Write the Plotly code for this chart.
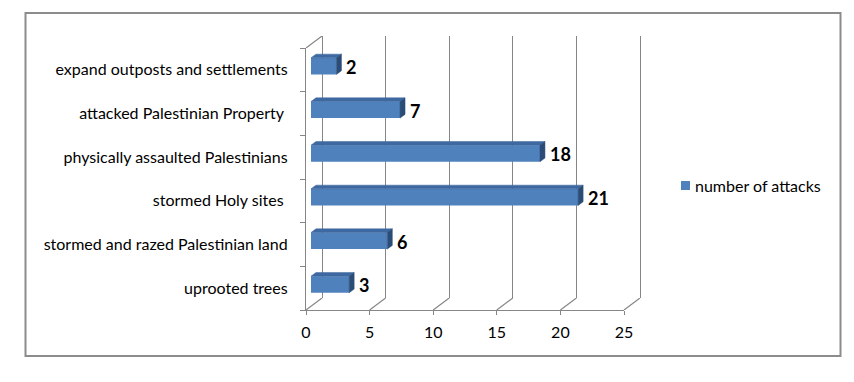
import plotly.graph_objects as go

# ---------------- data ----------------
categories = [
    "expand outposts and settlements",
    "attacked Palestinian Property\u00a0",
    "physically assaulted Palestinians",
    "stormed Holy sites\u00a0",
    "stormed and razed Palestinian land",
    "uprooted trees",
]
attacks = [2, 7, 18, 21, 6, 3]
x_ticks = [0, 5, 10, 15, 20, 25]
series_name = "number of attacks"

# ---------------- geometry / style ----------------
W, H = 854, 382
OFF = 8  # default page margin of the html body
def px(x):
    return (x - OFF) / W
def py(y):
    return 1 - (y - OFF) / H

FRONT_L, FRONT_R, FRONT_T, FRONT_B = 306, 624, 48, 310
DEPTH_X, DEPTH_Y = 16, 12          # back wall offset (px)
BAR_OFF_X, BAR_OFF_Y = 5, 3.7      # bar front-face offset (px)
BAR_DX, BAR_DY = 5, 3.7            # bar depth (px)
XMAX = 25
n = len(categories)
unit_x = (FRONT_R - FRONT_L) / XMAX
unit_y = (FRONT_B - FRONT_T) / n
D = DEPTH_X / unit_x
PAD = 3                             # px padding so edge gridlines are kept
padu = PAD / unit_x
bar_w = 0.38
dx = BAR_DX / unit_x
dy = BAR_DY / unit_y

GRID = "#868686"
FRONT = "#4F81BD"
TOP = "#3D68A0"
SIDE = "#2B4C76"
FONT = "Lato"
FS = 16

fig = go.Figure()

# anchor traces so that the front and back axes render
fig.add_trace(go.Scatter(x=[None], y=[None], xaxis="x", yaxis="y", showlegend=False, hoverinfo="skip"))
fig.add_trace(go.Scatter(x=[None], y=[None], xaxis="x2", yaxis="y2", showlegend=False, hoverinfo="skip"))

# floor / wall diagonals
diag_x, diag_y = [], []
for v in x_ticks:
    diag_x += [v, v + D, None]
    diag_y += [0, 1, None]
fig.add_trace(go.Scatter(x=diag_x, y=diag_y, xaxis="x4", yaxis="y4", mode="lines",
                         line=dict(color=GRID, width=1.2), showlegend=False, hoverinfo="skip"))
fig.add_trace(go.Scatter(x=[0, D], y=[0, 1], xaxis="x4", yaxis="y5", mode="lines",
                         line=dict(color=GRID, width=1.2), showlegend=False, hoverinfo="skip"))

# bars (front faces)
idx = list(range(n))
fig.add_trace(go.Bar(x=attacks, y=idx, orientation="h", width=bar_w, xaxis="x3", yaxis="y3",
                     marker=dict(color=FRONT, line=dict(width=0)), name=series_name,
                     showlegend=False, hovertext=categories))

# top and side faces
top_x, top_y, side_x, side_y = [], [], [], []
for i, v in enumerate(attacks):
    yt = i - bar_w / 2
    yb = i + bar_w / 2
    top_x += [0, v, v + dx, dx, 0, None]
    top_y += [yt, yt, yt - dy, yt - dy, yt, None]
    side_x += [v, v + dx, v + dx, v, v, None]
    side_y += [yt, yt - dy, yb - dy, yb, yt, None]
fig.add_trace(go.Scatter(x=top_x, y=top_y, xaxis="x3", yaxis="y3", mode="lines", fill="toself",
                         fillcolor=TOP, line=dict(color=TOP, width=0.5), showlegend=False, hoverinfo="skip"))
fig.add_trace(go.Scatter(x=side_x, y=side_y, xaxis="x3", yaxis="y3", mode="lines", fill="toself",
                         fillcolor=SIDE, line=dict(color=SIDE, width=0.5), showlegend=False, hoverinfo="skip"))

# data labels
for i, v in enumerate(attacks):
    fig.add_annotation(x=v, y=i, xref="x3", yref="y3", text=str(v), showarrow=False,
                       xanchor="left", yanchor="middle", xshift=BAR_DX + 3, yshift=-1,
                       font=dict(family=FONT, size=18, color="black", weight="bold"))

# legend (manual)
fig.add_shape(type="rect", xref="paper", yref="paper", x0=px(681), x1=px(690), y0=py(190), y1=py(181),
              fillcolor=FRONT, line=dict(width=0))
fig.add_annotation(x=px(693), y=py(185.5), xref="paper", yref="paper", text=series_name, showarrow=False,
                   xanchor="left", yanchor="middle", font=dict(family=FONT, size=FS, color="black"))

# chart border
fig.add_shape(type="rect", xref="paper", yref="paper", x0=px(25.5), x1=px(840.5), y0=py(356), y1=py(13),
              line=dict(color="#8C8C8C", width=2), layer="below")

axis_hidden = dict(visible=False, showgrid=False, zeroline=False, fixedrange=True, automargin=False)

fig.update_layout(
    width=W, height=H,
    margin=dict(l=0, r=0, t=0, b=0, pad=0, autoexpand=False),
    paper_bgcolor="white", plot_bgcolor="rgba(0,0,0,0)",
    showlegend=False,
    font=dict(family=FONT, size=FS, color="black"),
    # front axes
    xaxis=dict(domain=[px(FRONT_L), px(FRONT_R)], range=[0, XMAX], anchor="y",
               tickvals=x_ticks, ticks="outside", ticklen=4, tickcolor=GRID,
               showline=True, linecolor=GRID, linewidth=1.2, showgrid=False, zeroline=False,
               tickfont=dict(family=FONT, size=FS, color="black"), ticklabelstandoff=4,
               fixedrange=True, automargin=False),
    yaxis=dict(domain=[py(FRONT_B), py(FRONT_T)], range=[n - 0.5, -0.5], anchor="x",
               tickvals=idx, ticktext=categories, ticks="", showline=True, linecolor=GRID,
               linewidth=1.2, showgrid=False, zeroline=False,
               tickfont=dict(family=FONT, size=FS, color="black"), ticklabelstandoff=14,
               minor=dict(tickvals=[i - 0.5 for i in range(n + 1)], ticks="outside",
                          ticklen=5, tickcolor=GRID, showgrid=False),
               fixedrange=True, automargin=False),
    # back wall
    xaxis2=dict(domain=[px(FRONT_L + DEPTH_X - PAD), px(FRONT_R + DEPTH_X + PAD)],
                range=[-padu, XMAX + padu],
                anchor="y2", tickvals=x_ticks, showticklabels=False, ticks="",
                showgrid=True, gridcolor=GRID, gridwidth=1.2, zeroline=False, showline=False,
                fixedrange=True, automargin=False),
    yaxis2=dict(domain=[py(FRONT_B - DEPTH_Y), py(FRONT_T - DEPTH_Y)], range=[0, 1], anchor="x2",
                **axis_hidden),
    # bars
    xaxis3=dict(domain=[px(FRONT_L + BAR_OFF_X), px(FRONT_R + BAR_OFF_X)], range=[0, XMAX],
                anchor="y3", **axis_hidden),
    yaxis3=dict(domain=[py(FRONT_B - BAR_OFF_Y), py(FRONT_T - BAR_OFF_Y)], range=[n - 0.5, -0.5],
                anchor="x3", **axis_hidden),
    # diagonals
    xaxis4=dict(domain=[px(FRONT_L), px(FRONT_R + DEPTH_X)], range=[0, XMAX + D], anchor="y4",
                **axis_hidden),
    yaxis4=dict(domain=[py(FRONT_B), py(FRONT_B - DEPTH_Y)], range=[0, 1], anchor="x4", **axis_hidden),
    yaxis5=dict(domain=[py(FRONT_T), py(FRONT_T - DEPTH_Y)], range=[0, 1], anchor="x4", **axis_hidden),
)

fig.write_html("out.html", config={"displayModeBar": False})
